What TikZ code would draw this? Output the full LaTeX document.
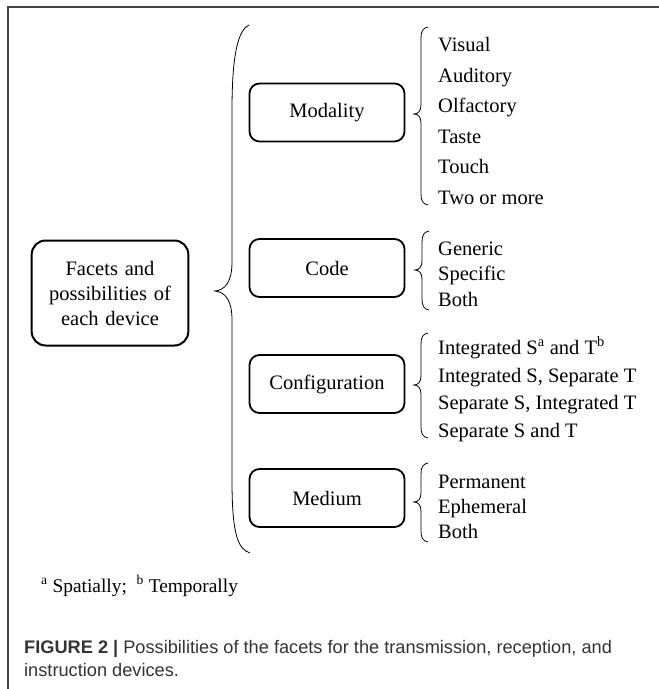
\documentclass[tikz,border=0pt]{standalone}
\usepackage{fontspec}
\setmainfont{Liberation Serif}
\newfontfamily\capfont{Liberation Sans}
\definecolor{captext}{HTML}{333333}
\definecolor{framecol}{HTML}{444444}
\newcommand\mybrc[4]{%
 \draw[brc] ({#1+14},#2) .. controls ({#1+9},{#2+1}) and ({#1+7},{#2+4}) .. ({#1+7},{#2+11}) -- ({#1+7},{#3-9}) .. controls ({#1+7},{#3-3}) and ({#1+4},#3) .. (#1,#3) .. controls ({#1+4},#3) and ({#1+7},{#3+3}) .. ({#1+7},{#3+9}) -- ({#1+7},{#4-11}) .. controls ({#1+7},{#4-4}) and ({#1+9},{#4-1}) .. ({#1+14},#4);}
\begin{document}
\begin{tikzpicture}[x=1pt,y=-1pt,
  facet/.style={draw, line width=1.8pt, rounded corners=10pt, minimum width=155pt, minimum height=58pt, font=\fontsize{20.5}{24}\selectfont},
  mainbox/.style={draw, line width=2pt, rounded corners=14pt, minimum width=154pt, minimum height=105pt, text width=150pt, align=center, font=\fontsize{20.5}{25}\selectfont},
  item/.style={anchor=base west, inner sep=0pt, font=\fontsize{20.5}{24}\selectfont},
  brc/.style={line width=0.8pt},
  foot/.style={anchor=base west, inner sep=0pt, font=\fontsize{19.4}{22}\selectfont},
  captionline/.style={anchor=base west, inner sep=0pt, text=captext, font=\capfont\fontsize{18.2}{22}\selectfont}]
\useasboundingbox (0,0) rectangle (659,689);
\draw[line width=1.2pt, framecol] (8,689) -- (8,7) -- (659,7);
% main box
\node[mainbox] (main) at (110,293) {Facets and possibilities of each device};
% big brace
\draw[brc] (249,25) .. controls (238,30) and (232,55) .. (232,110) -- (232,262) .. controls (232,282) and (225,290) .. (215,291) .. controls (225,292) and (232,300) .. (232,320) -- (232,480) .. controls (232,535) and (238,549) .. (250,553);
% facet boxes
\node[facet] (mod) at (327,112.5) {Modality};
\node[facet] (code) at (327,268) {Code};
\node[facet] (conf) at (327,384) {Configuration};
\node[facet] (med) at (327,498) {Medium};
% small braces
\mybrc{414}{27}{114}{205}
\mybrc{415}{231}{270}{310}
\mybrc{414}{333}{385}{438}
\mybrc{414}{463}{502}{542}
% items
\node[item] (m1) at (438,51.5) {Visual};
\node[item] (m2) at (438,82) {Auditory};
\node[item] (m3) at (438,112.5) {Olfactory};
\node[item] (m4) at (438,143) {Taste};
\node[item] (m5) at (438,173.5) {Touch};
\node[item] (m6) at (438,204) {Two or more};
\node[item] (c1) at (438,255) {Generic};
\node[item] (c2) at (438,280.5) {Specific};
\node[item] (c3) at (438,306) {Both};
\node[item] (f1) at (438,354) {Integrated S\textsuperscript{a} and T\textsuperscript{b}};
\node[item] (f2) at (438,382) {Integrated S, Separate T};
\node[item] (f3) at (438,409) {Separate S, Integrated T};
\node[item] (f4) at (438,437) {Separate S and T};
\node[item] (d1) at (438,488) {Permanent};
\node[item] (d2) at (438,513) {Ephemeral};
\node[item] (d3) at (438,538) {Both};
% footnote
\node[foot] (fn) at (41,592) {\textsuperscript{a} Spatially;\enspace\textsuperscript{b} Temporally};
% caption
\node[captionline] (cap1) at (24,653) {\textbf{FIGURE 2 |} Possibilities of the facets for the transmission, reception, and};
\node[captionline] (cap2) at (24,676) {instruction devices.};
\end{tikzpicture}
\end{document}
